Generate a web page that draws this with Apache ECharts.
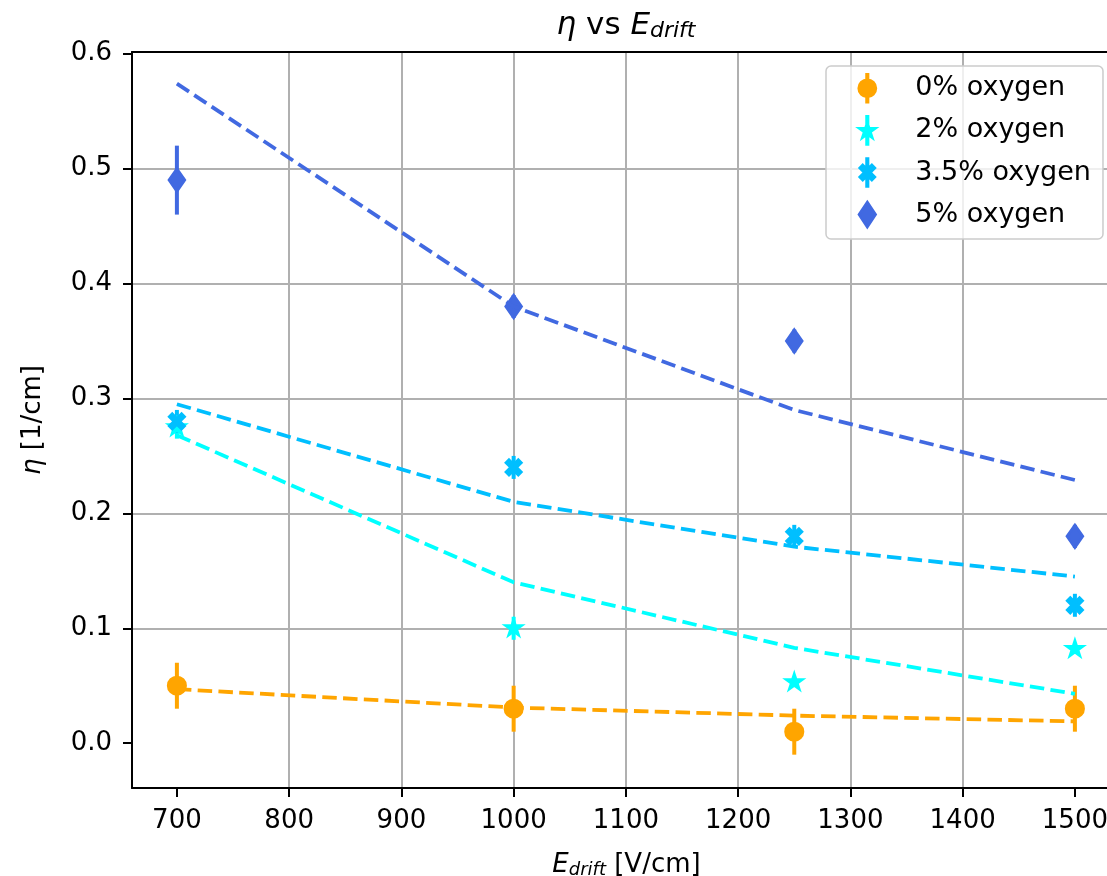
<!DOCTYPE html>
<html>
<head>
<meta charset="utf-8">
<title>η vs E_drift</title>
<script src="https://cdn.jsdelivr.net/npm/echarts@6.0.0/dist/echarts.min.js"></script>
<style>
  html, body { margin: 0; padding: 0; background: #ffffff; overflow: hidden; }
  #chart { width: 1107px; height: 876px; }
</style>
</head>
<body>
<div id="chart"></div>
<script>
// Drift field values (V/cm)
const fieldValues = [700, 1000, 1250, 1500];

// Attachment coefficient η (1/cm), uncertainty and fitted curve for each oxygen fraction
const eta0 = [0.05, 0.03, 0.01, 0.03];
const err0 = [0.02, 0.02, 0.02, 0.02];
const fit0 = [0.047, 0.031, 0.024, 0.019];

const eta2 = [0.275, 0.10, 0.053, 0.082];
const err2 = [0.01, 0.01, 0.004, 0.004];
const fit2 = [0.268, 0.140, 0.083, 0.043];

const eta35 = [0.28, 0.24, 0.18, 0.12];
const err35 = [0.01, 0.01, 0.01, 0.01];
const fit35 = [0.295, 0.21, 0.171, 0.145];

const eta5 = [0.49, 0.38, 0.35, 0.18];
const err5 = [0.03, 0.01, 0.01, 0.01];
const fit5 = [0.574, 0.38, 0.29, 0.229];

const seriesNames = ['0% oxygen', '2% oxygen', '3.5% oxygen', '5% oxygen'];

// Tick labels
const xTicks = [700, 800, 900, 1000, 1100, 1200, 1300, 1400, 1500];
const yTicks = [0.0, 0.1, 0.2, 0.3, 0.4, 0.5, 0.6];

const FONT = 'DejaVu Sans';
const EDGE = 2.6; // marker edge width, drawn in the marker's own colour

// ---- marker shapes -------------------------------------------------------
function poly(pts, s, cx, cy) {
  return 'M' + pts.map(p => (cx + p[0] * s).toFixed(2) + ' ' + (cy + p[1] * s).toFixed(2)).join(' L') + ' Z';
}
function circlePath(cx, cy, r) {
  return `M${cx - r} ${cy} A${r} ${r} 0 1 1 ${cx + r} ${cy} A${r} ${r} 0 1 1 ${cx - r} ${cy} Z`;
}
const starPts = [];
for (let k = 0; k < 10; k++) {
  const a = (-90 + 36 * k) * Math.PI / 180;
  const r = k % 2 ? 0.382 : 1;
  starPts.push([r * Math.cos(a), r * Math.sin(a)]);
}
const crossPts = [[-0.6, -1], [0, -0.4], [0.6, -1], [1, -0.6], [0.4, 0], [1, 0.6],
                  [0.6, 1], [0, 0.4], [-0.6, 1], [-1, 0.6], [-0.4, 0], [-1, -0.6]];
const thinDiamondPts = [[0, -1], [0.66, 0], [0, 1], [-0.66, 0]];

const SQUARE_BOX = ' M0 0 L0 0 M100 100 L100 100';
const starSymbol = 'path://' + poly(starPts, 50, 50, 50) + SQUARE_BOX;
const crossSymbol = 'path://' + poly(crossPts, 50, 50, 50) + SQUARE_BOX;

// legend handles: marker with a vertical error bar through it
const BAR = 'M9.25 0 L10.75 0 L10.75 28 L9.25 28 Z ';
const ICON_BOX = ' M0 0 L0 0 M20 28 L20 28';
const legendIcons = [
  'path://' + BAR + circlePath(10, 14, 8.6) + ICON_BOX,
  'path://' + BAR + poly(starPts, 8.6, 10, 14.6) + ICON_BOX,
  'path://' + BAR + poly(crossPts, 7.6, 10, 14) + ICON_BOX,
  'path://' + poly(thinDiamondPts, 12.6, 10, 14) + ICON_BOX
];

// ---- series ----------------------------------------------------------------
function group(name, color, symbol, size, eta, err, fit) {
  return [
    {
      name: name + ' error',
      type: 'custom',
      silent: true,
      encode: { x: 0, y: 1 },
      data: fieldValues.map((x, i) => [x, eta[i], err[i]]),
      renderItem: function (params, api) {
        const x = api.value(0), y = api.value(1), e = api.value(2);
        const p1 = api.coord([x, y - e]);
        const p2 = api.coord([x, y + e]);
        return {
          type: 'line',
          shape: { x1: p1[0], y1: p1[1], x2: p2[0], y2: p2[1] },
          style: { stroke: color, lineWidth: 4 }
        };
      }
    },
    {
      name: name,
      type: 'scatter',
      silent: true,
      symbol: symbol,
      symbolSize: size,
      symbolKeepAspect: false,
      itemStyle: { color: color, opacity: 1, borderColor: color, borderWidth: EDGE },
      data: fieldValues.map((x, i) => [x, eta[i]])
    },
    {
      name: name + ' fit',
      type: 'line',
      silent: true,
      symbol: 'none',
      lineStyle: { color: color, width: 3.8, type: [14.5, 6.3], cap: 'butt' },
      data: fieldValues.map((x, i) => [x, fit[i]])
    }
  ];
}

const series = [].concat(
  group(seriesNames[0], '#FFA500', 'circle', 17.5, eta0, err0, fit0),
  group(seriesNames[1], '#00FFFF', starSymbol, 17, eta2, err2, fit2),
  group(seriesNames[2], '#00BFFF', crossSymbol, 15.5, eta35, err35, fit35),
  group(seriesNames[3], '#4169E1', 'diamond', [16, 23], eta5, err5, fit5)
);

const axisLineStyle = { color: '#000000', width: 2 };
const gridLineStyle = { color: '#b0b0b0', width: 2 };
const tickFont = { fontSize: 26, fontFamily: FONT, color: '#000000' };

// the axes box runs past the right edge of the page, so the visible x range ends before 1540
const X_MIN = 660, X_MAX = 1528.6;
const Y_MIN = -0.039, Y_MAX = 0.6015;

const option = {
  animation: false,
  backgroundColor: '#ffffff',
  grid: { left: 132, top: 52, right: 0, bottom: 88, containLabel: false, outerBoundsMode: 'none' },
  xAxis: [
    {
      type: 'value', min: X_MIN, max: X_MAX, minInterval: 100, maxInterval: 100, splitNumber: 8,
      axisLine: { show: true, onZero: false, lineStyle: axisLineStyle },
      axisTick: { show: true, length: 9, lineStyle: axisLineStyle, customValues: xTicks },
      axisLabel: Object.assign({ customValues: xTicks, margin: 20, formatter: v => String(v) }, tickFont),
      splitLine: { show: true, showMinLine: false, showMaxLine: false, lineStyle: gridLineStyle },
      name: '{e|E}{s|drift} [V/cm]',
      nameLocation: 'middle',
      nameGap: 63,
      nameTextStyle: {
        fontSize: 26, fontFamily: FONT, color: '#000000',
        padding: [0, 0, 0, 14],
        rich: {
          e: { fontSize: 26, fontFamily: FONT, fontStyle: 'italic', color: '#000000' },
          s: { fontSize: 18, fontFamily: FONT, fontStyle: 'italic', color: '#000000', padding: [10, 0, 0, 0] }
        }
      }
    },
    {
      type: 'value', position: 'top', min: X_MIN, max: X_MAX,
      axisLine: { show: true, onZero: false, lineStyle: axisLineStyle },
      axisTick: { show: false }, axisLabel: { show: false }, splitLine: { show: false }
    }
  ],
  yAxis: [
    {
      type: 'value', min: Y_MIN, max: Y_MAX, minInterval: 0.1, maxInterval: 0.1, splitNumber: 6,
      axisLine: { show: true, onZero: false, lineStyle: axisLineStyle },
      axisTick: { show: true, length: 9, lineStyle: axisLineStyle, customValues: yTicks },
      axisLabel: Object.assign({ customValues: yTicks, margin: 20, formatter: v => v.toFixed(1) }, tickFont),
      splitLine: { show: true, showMinLine: false, showMaxLine: false, lineStyle: gridLineStyle },
      name: '{e|η} [1/cm]',
      nameLocation: 'middle',
      nameGap: 86,
      nameTextStyle: {
        fontSize: 26, fontFamily: FONT, color: '#000000',
        rich: {
          e: { fontSize: 26, fontFamily: FONT, fontStyle: 'italic', color: '#000000' }
        }
      }
    }
  ],
  legend: {
    data: seriesNames.map((n, i) => ({ name: n, icon: legendIcons[i] })),
    orient: 'vertical',
    left: 826, top: 66,
    itemWidth: 20, itemHeight: 28, itemGap: 11.5,
    padding: [7, 12, 9, 30],
    backgroundColor: 'rgba(255,255,255,0.8)',
    borderColor: '#cccccc', borderWidth: 1.5, borderRadius: 5,
    selectedMode: false,
    itemStyle: { borderWidth: EDGE, borderColor: 'inherit' },
    textStyle: { fontSize: 27, fontFamily: FONT, color: '#000000', padding: [0, 0, 0, 33], lineHeight: 28 }
  },
  graphic: [
    {
      type: 'text',
      x: 626, y: 26,
      silent: true,
      style: {
        text: '{e|η} vs {e|E}{s|drift}',
        align: 'center', verticalAlign: 'middle',
        fontSize: 31, fontFamily: FONT, fill: '#000000',
        rich: {
          e: { fontSize: 31, fontFamily: FONT, fontStyle: 'italic', fill: '#000000' },
          s: { fontSize: 22, fontFamily: FONT, fontStyle: 'italic', fill: '#000000', padding: [10, 0, 0, 0] }
        }
      }
    }
  ],
  series: series
};

const chart = echarts.init(document.getElementById('chart'), null, { renderer: 'canvas' });
chart.setOption(option);
</script>
</body>
</html>
